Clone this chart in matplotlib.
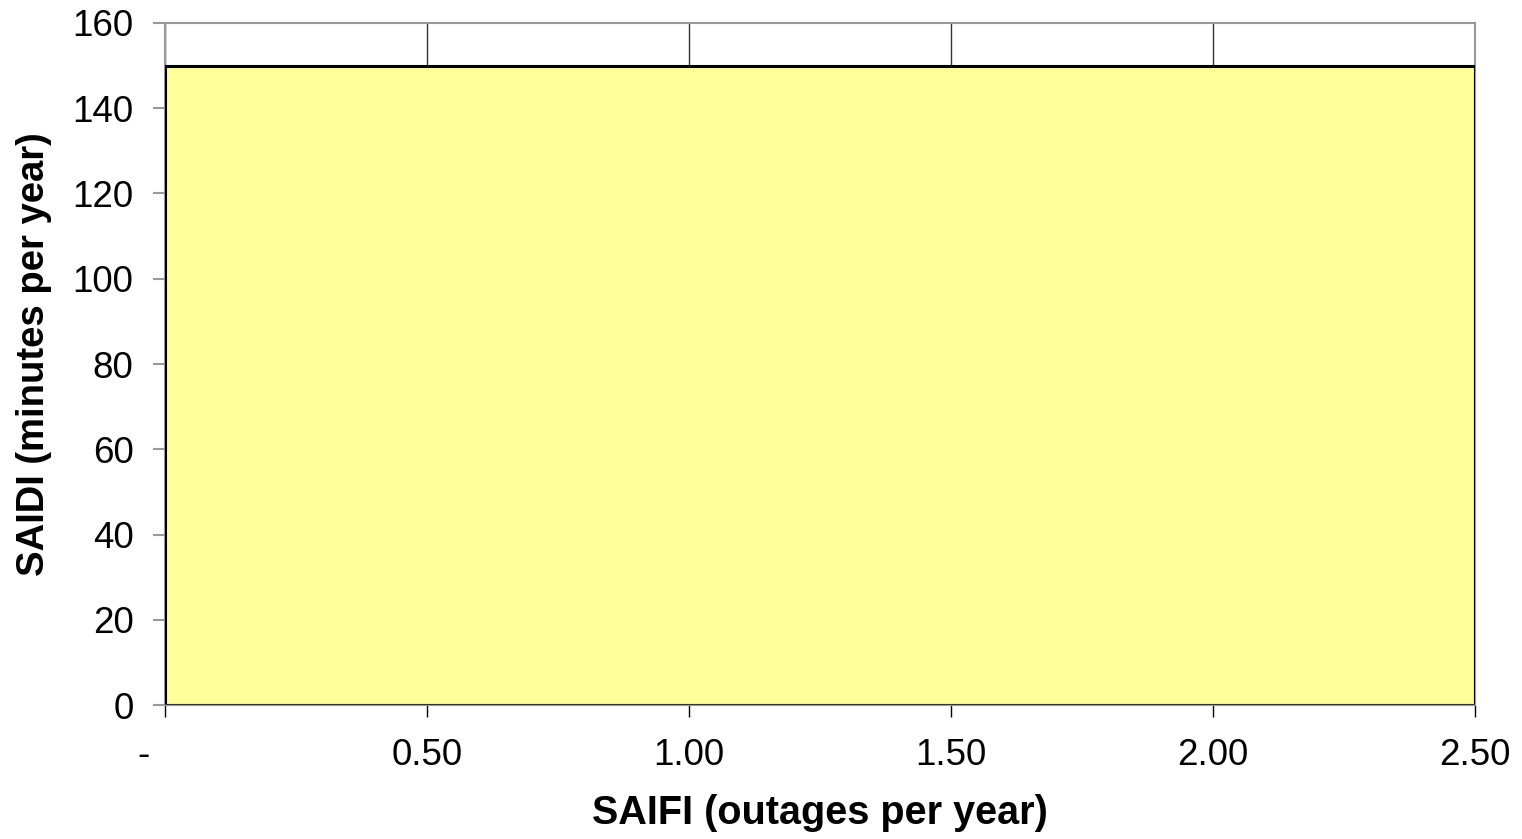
import numpy as np
import matplotlib.pyplot as plt

plt.rcParams['font.family'] = ['Liberation Sans', 'DejaVu Sans']

## datos
saifi = [0.0, 2.5]
saidi = [150, 150]
xticks = [0.0, 0.5, 1.0, 1.5, 2.0, 2.5]
xlabels = ["-    ", "0.50", "1.00", "1.50", "2.00", "2.50"]
yticks = [0, 20, 40, 60, 80, 100, 120, 140, 160]

fig = plt.figure(figsize=(15.22, 8.39), dpi=100)
ax = fig.add_axes([0.1084, 0.1597, 0.8607, 0.8129])

## area amarilla
ax.fill_between(saifi, 0, saidi, facecolor="#FFFF99", edgecolor="none", zorder=2)
ax.plot([saifi[0], saifi[0], saifi[1], saifi[1]], [0, saidi[0], saidi[1], 0],
        color="black", lw=2.2, zorder=3)
ax.plot(saifi, [0, 0], color="#333333", lw=1.5, zorder=3)

ax.set_xlim(0, 2.5)
ax.set_ylim(0, 160)
ax.set_xticks(xticks)
ax.set_xticklabels(xlabels)
ax.set_yticks(yticks)
ax.grid(axis="x", color="#333333", lw=1, zorder=1)
ax.set_axisbelow(True)

for s in ax.spines.values():
    s.set_color("#999999")
    s.set_linewidth(1.5)

ax.tick_params(axis="x", direction="out", length=8.6, width=1, color="black",
               labelsize=26.5, pad=15)
ax.tick_params(axis="y", direction="out", length=8.6, width=1.5, color="#999999",
               labelsize=26.5, pad=14, labelcolor="black")

ax.set_xlabel("SAIFI (outages per year)", fontsize=28.5, fontweight="bold")
ax.set_ylabel("SAIDI (minutes per year)", fontsize=27.5, fontweight="bold")
ax.xaxis.set_label_coords(0.5, -0.13)
ax.yaxis.set_label_coords(-0.0863, 0.515)

plt.savefig("out.png")
